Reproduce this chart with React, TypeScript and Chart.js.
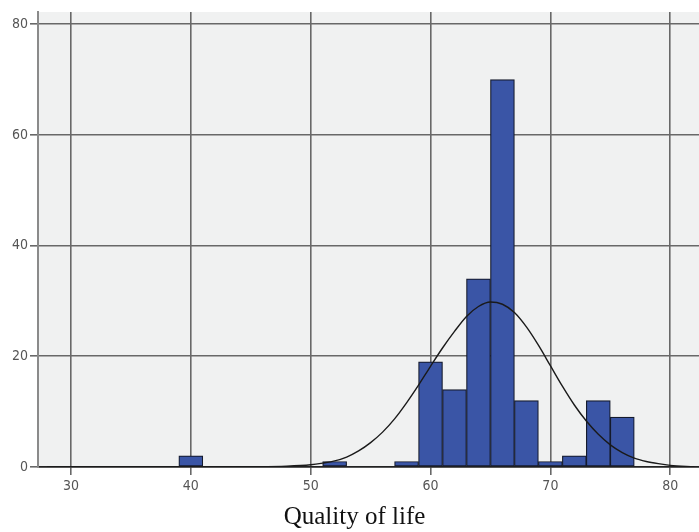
import { useEffect, useRef } from "react";
import { Chart, registerables } from "chart.js";

Chart.register(...registerables);

// Histogram bins (centre of 2-unit bins) and frequencies
const binCenters = [40, 52, 58, 60, 62, 64, 66, 68, 70, 72, 74, 76];
const binCounts = [2, 1, 1, 19, 14, 34, 70, 12, 1, 2, 12, 9];

// Fitted normal curve
const curveX = [28, 40, 45, 48, 50, 51, 52, 53, 54, 55, 56, 57, 58, 59, 60, 61, 62, 63, 64, 65, 66, 67, 68, 69, 70, 71, 72, 73, 74, 75, 76, 77, 78, 79, 80, 82];
const curveY = [0, 0, 0.05, 0.15, 0.4, 0.7, 1.1, 1.8, 2.9, 4.4, 6.3, 8.7, 11.6, 14.8, 18.2, 21.5, 24.5, 27.2, 29.0, 29.8, 29.4, 27.9, 25.3, 22.0, 18.3, 14.6, 11.2, 8.3, 5.9, 4.0, 2.6, 1.6, 1.0, 0.6, 0.3, 0.05];

const xTicks = [30, 40, 50, 60, 70, 80];
const yTicks = [0, 20, 40, 60, 80];
const xTitle = "Quality of life";

const X_MIN = 27.25;
const X_MAX = 82.4;
const Y_MIN = 0;
const Y_MAX = 82.2;

const tickFont = {
  family: "'Liberation Sans Narrow', 'DejaVu Sans Condensed', 'Liberation Sans', Arial, sans-serif",
  size: 14,
};

const bgPlugin = {
  id: "plotBg",
  beforeDraw(chart: any) {
    const { ctx, chartArea } = chart;
    ctx.save();
    ctx.fillStyle = "#f0f1f1";
    ctx.fillRect(chartArea.left, chartArea.top, chartArea.right - chartArea.left, chartArea.bottom - chartArea.top);
    ctx.restore();
  },
};

const titlePlugin = {
  id: "bottomTitle",
  afterDraw(chart: any) {
    const { ctx } = chart;
    ctx.save();
    ctx.font = "25px 'Liberation Serif', 'DejaVu Serif', serif";
    ctx.fillStyle = "#111";
    ctx.textAlign = "center";
    ctx.textBaseline = "middle";
    ctx.fillText(xTitle, chart.width / 2 + 5, 517);
    ctx.restore();
  },
};

export default function App() {
  const ref = useRef<HTMLCanvasElement | null>(null);

  useEffect(() => {
    if (!ref.current) return;
    const chart = new Chart(ref.current, {
      type: "bar",
      data: {
        datasets: [
          {
            type: "line",
            data: curveX.map((x, i) => ({ x, y: curveY[i] })),
            borderColor: "#1a1a1a",
            borderWidth: 1.4,
            pointRadius: 0,
            tension: 0.4,
            cubicInterpolationMode: "monotone",
            fill: false,
            order: 0,
          } as any,
          {
            type: "bar",
            data: binCenters.map((x, i) => ({ x, y: binCounts[i] })),
            backgroundColor: "#3a55a6",
            borderColor: "#141a2c",
            borderWidth: 1.2,
            borderSkipped: false,
            barPercentage: 1,
            categoryPercentage: 1,
            order: 1,
          } as any,
        ],
      },
      options: {
        responsive: false,
        animation: false,
        layout: { padding: { top: 12, right: 0, left: 0, bottom: 0 } },
        plugins: {
          legend: { display: false },
          tooltip: { enabled: false },
        },
        scales: {
          x: {
            type: "linear",
            min: X_MIN,
            max: X_MAX,
            offset: false,
            afterBuildTicks: (scale: any) => {
              scale.ticks = xTicks.map((v) => ({ value: v }));
            },
            afterFit: (scale: any) => {
              scale.height = 65;
            },
            grid: {
              offset: false,
              color: "#686868",
              lineWidth: 1.6,
              tickColor: "#686868",
              tickLength: 8,
            },
            border: { display: true, color: "#222", width: 1.6 },
            ticks: {
              color: "#555",
              font: tickFont,
              padding: 3,
              maxRotation: 0,
              autoSkip: false,
            },
          },
          y: {
            type: "linear",
            min: Y_MIN,
            max: Y_MAX,
            afterBuildTicks: (scale: any) => {
              scale.ticks = yTicks.map((v) => ({ value: v }));
            },
            afterFit: (scale: any) => {
              scale.width = 38;
            },
            grid: {
              color: (c: any) => (c.tick && c.tick.value === 0 ? "#222" : "#686868"),
              lineWidth: 1.6,
              tickColor: "#686868",
              tickLength: 8,
            },
            border: { display: true, color: "#8a8a8a", width: 2 },
            ticks: {
              color: "#555",
              font: tickFont,
              padding: 2,
              autoSkip: false,
            },
          },
        },
      },
      plugins: [bgPlugin, titlePlugin],
    });
    return () => chart.destroy();
  }, []);

  return (
    <canvas
      ref={ref}
      width={699}
      height={532}
      style={{ position: "fixed", left: 0, top: 0, display: "block", width: 699, height: 532, background: "#fff" }}
    />
  );
}
